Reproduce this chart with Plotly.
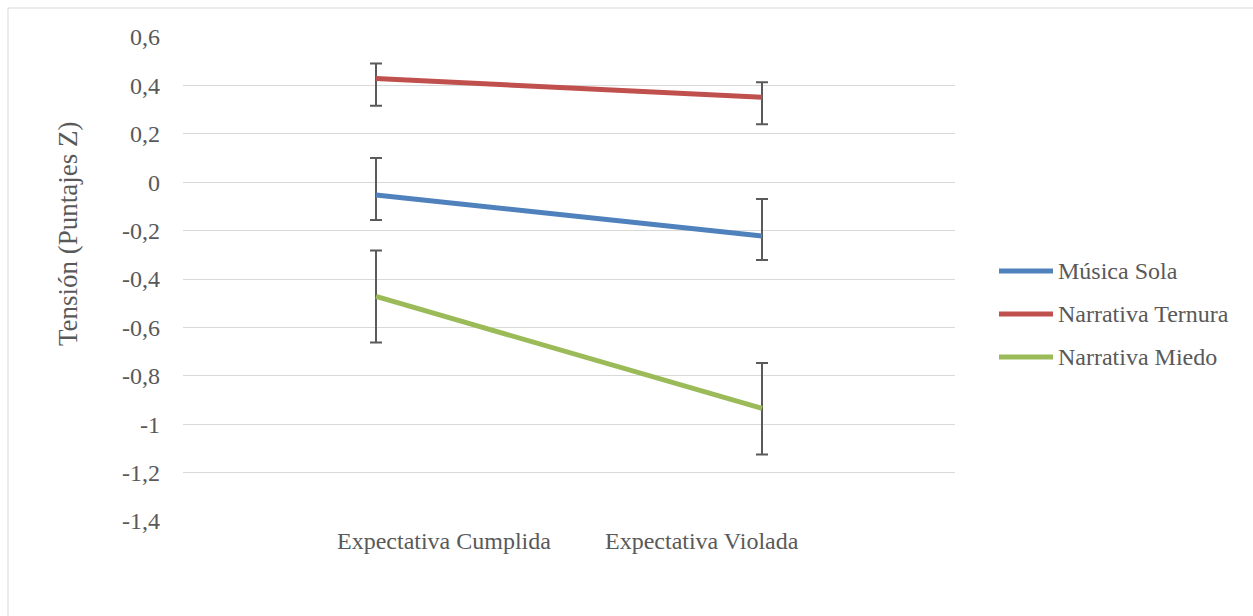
import plotly.graph_objects as go

# Conditions on the x axis
categories = ["Expectativa Cumplida", "Expectativa Violada"]

# Series names, means and asymmetric error bars (Z scores)
series_names = ["Música Sola", "Narrativa Ternura", "Narrativa Miedo"]
musica_sola = [-0.053, -0.222]
narrativa_ternura = [0.428, 0.351]
narrativa_miedo = [-0.472, -0.935]

musica_sola_err_plus = [0.153, 0.153]
musica_sola_err_minus = [0.103, 0.100]
narrativa_ternura_err_plus = [0.062, 0.062]
narrativa_ternura_err_minus = [0.112, 0.112]
narrativa_miedo_err_plus = [0.190, 0.188]
narrativa_miedo_err_minus = [0.190, 0.190]

# Y-axis ticks and title
y_title = "Tensión (Puntajes Z)"
y_tickvals = [0.6, 0.4, 0.2, 0, -0.2, -0.4, -0.6, -0.8, -1.0, -1.2, -1.4]
y_ticktext = ["0,6", "0,4", "0,2", "0", "-0,2", "-0,4", "-0,6", "-0,8", "-1", "-1,2", "-1,4"]

colors = ["#4F81BD", "#C0504D", "#9BBB59"]
values = [musica_sola, narrativa_ternura, narrativa_miedo]
errs_plus = [musica_sola_err_plus, narrativa_ternura_err_plus, narrativa_miedo_err_plus]
errs_minus = [musica_sola_err_minus, narrativa_ternura_err_minus, narrativa_miedo_err_minus]

FONT = "'Times New Roman', 'Liberation Serif', serif"
TEXT = "#595959"
GRID = "#D9D9D9"

W, H = 1253, 616
ML, MR, MT, MB = 183, 298, 37, 95
PW, PH = W - ML - MR, H - MT - MB


def px_x(p):
    return (p - ML) / PW


def px_y(p):
    return (H - MB - p) / PH


fig = go.Figure()
for name, vals, ep, em, col in zip(series_names, values, errs_plus, errs_minus, colors):
    fig.add_trace(go.Scatter(
        x=categories, y=vals, name=name, mode="lines",
        line=dict(color=col, width=5),
        error_y=dict(type="data", symmetric=False, array=ep, arrayminus=em,
                     color="#5A5A5A", thickness=2, width=6),
        showlegend=False,
    ))

# Outer chart border
fig.add_shape(type="rect", xref="paper", yref="paper",
              x0=px_x(8), x1=px_x(W + 10), y0=px_y(H + 10), y1=px_y(8),
              line=dict(color=GRID, width=1), fillcolor="rgba(0,0,0,0)", layer="below")

# Y-axis title
fig.add_annotation(text=y_title, xref="paper", yref="paper", x=px_x(68), y=px_y(234),
                   xanchor="center", yanchor="middle", textangle=-90, showarrow=False,
                   font=dict(family=FONT, size=27, color=TEXT))

# Category labels
for lab, px in zip(categories, [444, 702]):
    fig.add_annotation(text=lab, xref="paper", yref="paper", x=px_x(px), y=px_y(541),
                       xanchor="center", yanchor="middle", showarrow=False,
                       font=dict(family=FONT, size=24, color=TEXT))

# Legend drawn beside the plot
for i, (name, col) in enumerate(zip(series_names, colors)):
    yc = 271 + 43 * i
    fig.add_shape(type="line", xref="paper", yref="paper",
                  x0=px_x(999), x1=px_x(1053), y0=px_y(yc), y1=px_y(yc),
                  line=dict(color=col, width=5))
    fig.add_annotation(text=name, xref="paper", yref="paper", x=px_x(1056), y=px_y(yc),
                       xanchor="left", yanchor="middle", showarrow=False,
                       font=dict(family=FONT, size=24, color=TEXT))

fig.update_layout(
    width=W, height=H,
    margin=dict(l=ML, r=MR, t=MT, b=MB),
    paper_bgcolor="white", plot_bgcolor="white",
    font=dict(family=FONT, color=TEXT, size=24),
    xaxis=dict(type="category", range=[-0.5, 1.5], showticklabels=False,
               showgrid=False, zeroline=False, showline=False, ticks=""),
    yaxis=dict(range=[-1.4, 0.6], tickvals=y_tickvals, ticktext=y_ticktext,
               showgrid=True, gridcolor=GRID, gridwidth=1, zeroline=False,
               showline=False, ticks="", ticklabelstandoff=22,
               tickfont=dict(family=FONT, size=24, color=TEXT)),
    showlegend=False,
)

fig.write_html("out.html")
